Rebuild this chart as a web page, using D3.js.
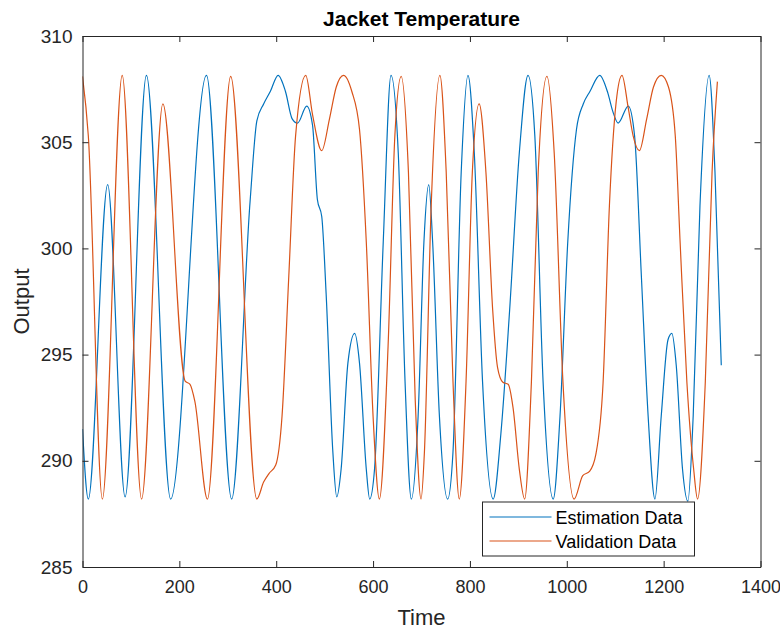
<!DOCTYPE html>
<html>
<head>
<meta charset="utf-8">
<script src="https://cdn.jsdelivr.net/npm/d3@7"></script>
<style>
  body { margin: 0; background: #fff; }
  svg { display: block; font-family: "Liberation Sans", Arial, sans-serif; }
  .tick text { fill: #262626; }
</style>
</head>
<body>
<div id="chart"></div>
<script>
// values: [time, output]
const estimation = [
  [0, 291.5], [12, 288.2], [52, 303.0], [88, 288.3], [132, 308.15], [182, 288.2],
  [256, 308.15], [308, 288.2], [346, 302.2], [360, 306.0], [374, 306.8], [388, 307.4],
  [404, 308.15], [419, 307.4], [433, 306.1], [444, 305.9], [463, 306.7], [475, 305.8],
  [485, 302.3], [494, 301.5], [503, 297.9], [517, 290.4], [525, 288.3], [534, 289.6],
  [548, 294.6], [562, 296.0], [572, 294.6], [586, 289.6], [593, 288.2], [603, 289.6],
  [621, 300.3], [637, 308.15], [652, 304.5], [666, 293.75], [679, 288.2], [693, 292.1],
  [705, 300.3], [715, 303.0], [723, 300.3], [737, 292.1], [754, 288.2], [765, 290.4],
  [782, 303.6], [796, 308.15], [809, 304.5], [826, 293.75], [848, 288.2], [864, 291.3],
  [882, 297.1], [902, 304.5], [920, 308.15], [934, 305.3], [951, 293.75], [972, 288.2],
  [986, 292.1], [1002, 300.3], [1020, 305.6], [1034, 306.8], [1048, 307.4], [1068, 308.15],
  [1085, 307.3], [1095, 306.45], [1106, 305.9], [1127, 306.7], [1140, 305.3], [1154, 298.7],
  [1168, 292.1], [1182, 288.2], [1195, 292.1], [1209, 295.7], [1217, 296.0], [1226, 294.5],
  [1239, 289.6], [1250, 288.1], [1261, 292.1], [1275, 302.0], [1294, 308.15], [1306, 303.6],
  [1319, 294.5]
];

const validation = [
  [0, 308.1], [12, 305.3], [41, 288.2], [82, 308.15], [122, 288.2], [166, 306.8],
  [212, 293.75], [222, 293.6], [232, 292.8], [258, 288.2], [306, 308.1], [360, 288.2],
  [374, 289.0], [385, 289.4], [399, 289.8], [412, 292.1], [426, 298.7], [440, 305.3],
  [461, 308.15], [475, 306.3], [494, 304.6], [510, 306.1], [524, 307.6], [539, 308.15],
  [556, 307.4], [572, 305.6], [586, 300.3], [600, 292.1], [613, 288.2], [631, 295.4],
  [645, 305.3], [658, 308.1], [673, 303.6], [687, 292.9], [699, 288.2], [706, 290.4],
  [720, 302.0], [738, 308.15], [751, 303.6], [765, 293.75], [778, 288.2], [792, 293.75],
  [805, 303.6], [819, 306.8], [833, 303.6], [847, 297.1], [857, 294.4], [868, 293.7],
  [879, 293.6], [889, 292.5], [902, 289.6], [913, 288.2], [927, 293.75], [941, 303.6],
  [959, 308.1], [974, 304.5], [992, 293.75], [1015, 288.2], [1033, 289.3], [1047, 289.5],
  [1060, 290.3], [1075, 293.7], [1088, 302.0], [1102, 306.9], [1114, 308.15], [1127, 306.6],
  [1137, 305.3], [1150, 304.6], [1165, 306.1], [1179, 307.6], [1195, 308.15], [1210, 307.6],
  [1224, 305.3], [1234, 300.3], [1248, 293.7], [1262, 289.6], [1270, 288.2], [1286, 293.7],
  [1300, 303.6], [1311, 307.85]
];

const xTicks = [0, 200, 400, 600, 800, 1000, 1200, 1400];
const yTicks = [285, 290, 295, 300, 305, 310];
const seriesNames = ['Estimation Data', 'Validation Data'];
const colors = ['#0072BD', '#D95319'];

const width = 780, height = 630;
const margin = {top: 36, right: 19.5, bottom: 63, left: 82.5};
const axisColor = '#262626';

const svg = d3.select('#chart').append('svg')
  .attr('width', width)
  .attr('height', height);

const x = d3.scaleLinear().domain([0, 1400]).range([margin.left, width - margin.right]);
const y = d3.scaleLinear().domain([285, 310]).range([height - margin.bottom, margin.top]);

const line = d3.line()
  .x(d => x(d[0]))
  .y(d => y(d[1]))
  .curve(d3.curveMonotoneX);

svg.append('defs').append('clipPath').attr('id', 'plot')
  .append('rect')
  .attr('x', x(0)).attr('y', y(310))
  .attr('width', x(1400) - x(0)).attr('height', y(285) - y(310));

const plot = svg.append('g').attr('clip-path', 'url(#plot)');
[estimation, validation].forEach((s, i) => {
  plot.append('path')
    .datum(s)
    .attr('fill', 'none')
    .attr('stroke', colors[i])
    .attr('stroke-width', 1.2)
    .attr('d', line);
});

// axes, MATLAB-style box with inward ticks on all four sides
const tickLen = 6;
const fmt = d3.format('d');
function styleAxis(g, size = 19) {
  g.select('.domain').attr('stroke', axisColor).attr('stroke-width', 1);
  g.selectAll('.tick line').attr('stroke', axisColor);
  g.selectAll('.tick text').attr('font-size', size);
}

svg.append('g')
  .attr('transform', `translate(0,${y(285)})`)
  .call(d3.axisBottom(x).tickValues(xTicks).tickFormat(fmt).tickSizeInner(-tickLen).tickSizeOuter(0).tickPadding(13))
  .call(styleAxis, 18);

svg.append('g')
  .attr('transform', `translate(0,${y(310)})`)
  .call(d3.axisTop(x).tickValues(xTicks).tickSizeInner(-tickLen).tickSizeOuter(0).tickFormat(''))
  .call(styleAxis);

svg.append('g')
  .attr('transform', `translate(${x(0)},0)`)
  .call(d3.axisLeft(y).tickValues(yTicks).tickFormat(fmt).tickSizeInner(-tickLen).tickSizeOuter(0).tickPadding(10))
  .call(styleAxis);

svg.append('g')
  .attr('transform', `translate(${x(1400)},0)`)
  .call(d3.axisRight(y).tickValues(yTicks).tickSizeInner(-tickLen).tickSizeOuter(0).tickFormat(''))
  .call(styleAxis);

// title and axis labels
svg.append('text')
  .text('Jacket Temperature')
  .attr('x', (x(0) + x(1400)) / 2)
  .attr('y', 26)
  .attr('text-anchor', 'middle')
  .attr('font-size', 21)
  .attr('font-weight', 'bold')
  .attr('fill', '#000');

svg.append('text')
  .text('Time')
  .attr('x', (x(0) + x(1400)) / 2)
  .attr('y', 625)
  .attr('text-anchor', 'middle')
  .attr('font-size', 22)
  .attr('fill', axisColor);

svg.append('text')
  .text('Output')
  .attr('transform', `translate(29,${(y(285) + y(310)) / 2}) rotate(-90)`)
  .attr('text-anchor', 'middle')
  .attr('font-size', 22)
  .attr('fill', axisColor);

// legend
const legend = svg.append('g').attr('transform', 'translate(482.5,502)');
legend.append('rect')
  .attr('width', 212).attr('height', 54)
  .attr('fill', '#fff')
  .attr('stroke', axisColor)
  .attr('stroke-width', 1);

seriesNames.forEach((name, i) => {
  const row = legend.append('g').attr('transform', `translate(0,${15 + i * 24})`);
  row.append('line')
    .attr('x1', 7).attr('x2', 69)
    .attr('stroke', colors[i])
    .attr('stroke-width', 1.2);
  row.append('text')
    .text(name)
    .attr('x', 73)
    .attr('y', 6.5)
    .attr('font-size', 18)
    .attr('fill', '#000');
});
</script>
</body>
</html>
